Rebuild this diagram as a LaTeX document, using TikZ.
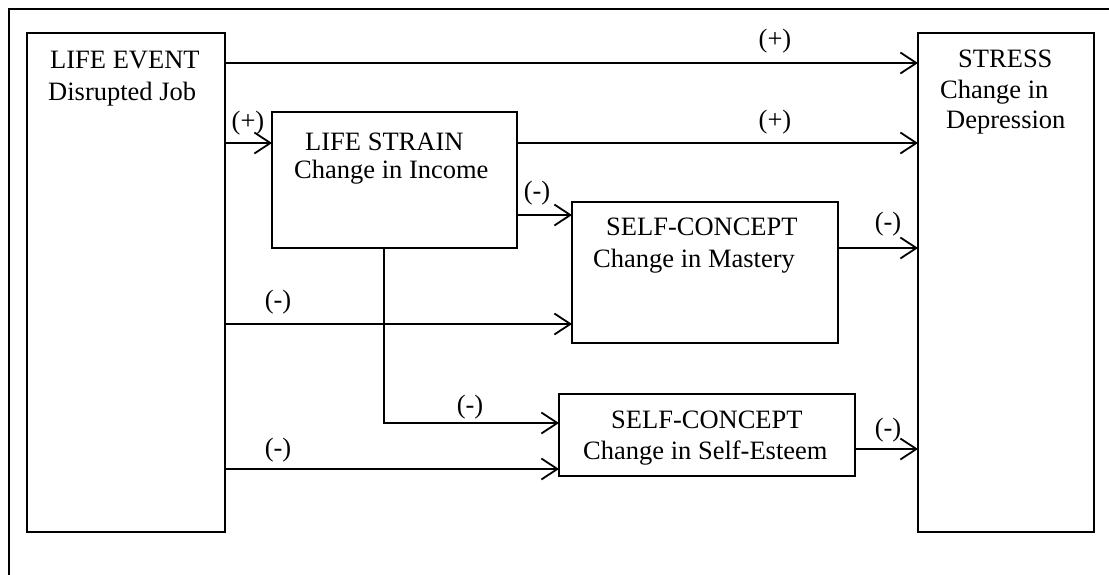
\documentclass[tikz,border=0pt]{standalone}
\usepackage{fontspec}
\setmainfont{Liberation Serif}
\usetikzlibrary{arrows.meta}
\begin{document}
\begin{tikzpicture}[x=1pt,y=-1pt,
  box/.style={draw,line width=1.8pt,inner sep=0pt,outer sep=0pt,anchor=north west},
  txt/.style={inner sep=0pt,anchor=base west,font=\fontsize{26.5}{31}\selectfont},
  lbl/.style={inner sep=0pt,font=\fontsize{26.5}{31}\selectfont},
  conn/.style={line width=1.8pt,-{Straight Barb[length=16pt,width=21pt]}},
  frame/.style={line width=2.6pt}]
\useasboundingbox (0,0) rectangle (1109,574);
% outer frame (top and left only)
\coordinate (ftl) at (9,9);
\coordinate (ftr) at (1110,9);
\coordinate (fbl) at (9,575);
\draw[frame] (ftr) -- (ftl) -- (fbl);
% boxes
\node[box,minimum width=198pt,minimum height=499pt] (le) at (27,33) {};
\node[box,minimum width=176pt,minimum height=499pt] (st) at (918,33) {};
\node[box,minimum width=245pt,minimum height=136pt] (ls) at (272,112) {};
\node[box,minimum width=266pt,minimum height=141pt] (ma) at (572,202) {};
\node[box,minimum width=296pt,minimum height=82pt] (es) at (559,394) {};
% texts
\node[txt] (le1) at (50,68) {LIFE EVENT};
\node[txt] (le2) at (48,100) {Disrupted Job};
\node[txt] (st1) at (958,67) {STRESS};
\node[txt] (st2) at (940,98) {Change in};
\node[txt] (st3) at (946,128) {Depression};
\node[txt] (ls1) at (305,150) {LIFE STRAIN};
\node[txt] (ls2) at (294,178) {Change in Income};
\node[txt] (ma1) at (606,235) {SELF-CONCEPT};
\node[txt] (ma2) at (593,267) {Change in Mastery};
\node[txt] (es1) at (611,428) {SELF-CONCEPT};
\node[txt] (es2) at (583,459) {Change in Self-Esteem};
% connectors
\draw[conn] (le.east |- 0,63) -- (st.west |- 0,63);
\draw[conn] (le.east |- 0,143) -- (ls.west |- 0,143);
\draw[conn] (ls.east |- 0,143) -- (st.west |- 0,143);
\draw[conn] (ls.east |- 0,215) -- (ma.west |- 0,215);
\draw[conn] (ma.east |- 0,248) -- (st.west |- 0,248);
\draw[conn] (le.east |- 0,324) -- (ma.west |- 0,324);
\draw[conn] (ls.south -| 384,0) |- (es.west |- 0,423);
\draw[conn] (le.east |- 0,469) -- (es.west |- 0,469);
\draw[conn] (es.east |- 0,449) -- (st.west |- 0,449);
% labels
\node[lbl] (p1) at (775,41) {(+)};
\node[lbl] (p2) at (248,123) {(+)};
\node[lbl] (p3) at (775,122) {(+)};
\node[lbl] (m1) at (537,193) {(-)};
\node[lbl] (m2) at (888,224) {(-)};
\node[lbl] (m3) at (278,302) {(-)};
\node[lbl] (m4) at (470,407) {(-)};
\node[lbl] (m5) at (278,450) {(-)};
\node[lbl] (m6) at (888,430) {(-)};
\end{tikzpicture}
\end{document}
